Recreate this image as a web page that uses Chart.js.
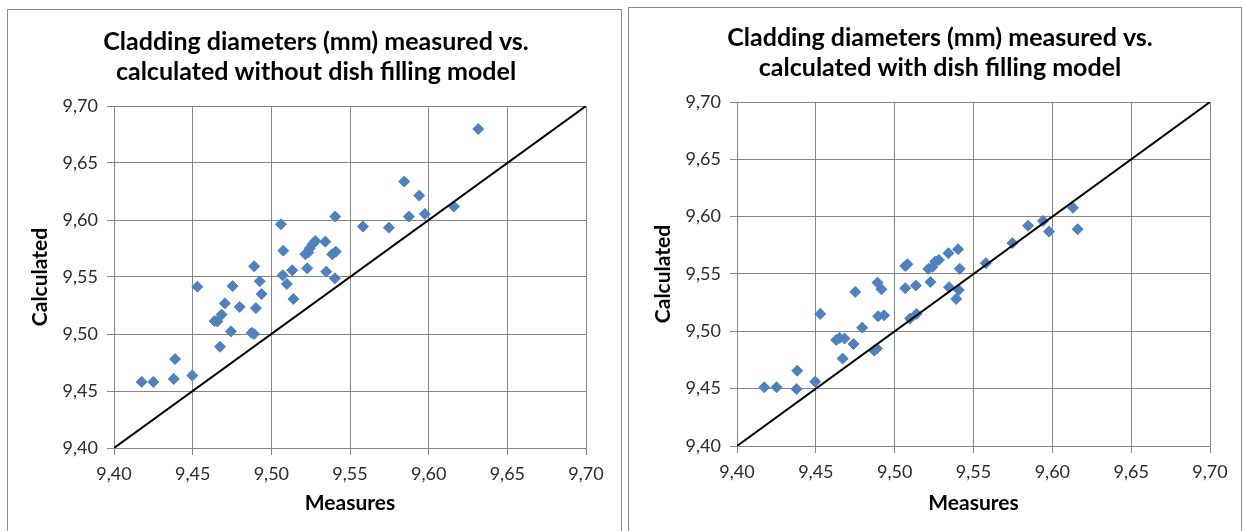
<!DOCTYPE html>
<html>
<head>
<meta charset="utf-8">
<script src="https://cdn.jsdelivr.net/npm/chart.js@4.4.1/dist/chart.umd.min.js"></script>
<style>
  html, body { margin: 0; padding: 0; background: #fff; overflow: hidden; }
  body { width: 1243px; height: 531px; position: relative; }
  .frame { position: absolute; border: 1px solid #8c8c8c; box-sizing: border-box; }
  canvas { position: absolute; }
</style>
</head>
<body>
<div class="frame" style="left:7px; top:9px; width:615px; height:540px;"></div>
<div class="frame" style="left:628px; top:7px; width:614px; height:540px;"></div>
<canvas id="c1" width="592" height="520" style="left:20px; top:10px;"></canvas>
<canvas id="c2" width="592" height="522" style="left:644px; top:8px;"></canvas>
<script>
// ---- data ----
const tickValues = [9.40, 9.45, 9.50, 9.55, 9.60, 9.65, 9.70];

const measuresWithout = [9.4176, 9.4250, 9.4380, 9.4388, 9.4498, 9.4530, 9.4674, 9.4640, 9.4657, 9.4684,
  9.4705, 9.4743, 9.4754, 9.4799, 9.4875, 9.4890, 9.4891, 9.4902, 9.4926, 9.4938,
  9.5061, 9.5072, 9.5076, 9.5099, 9.5133, 9.5140, 9.5228, 9.5216, 9.5235, 9.5245,
  9.5262, 9.5279, 9.5343, 9.5349, 9.5387, 9.5410, 9.5406, 9.5404, 9.5582, 9.5747,
  9.5874, 9.5976, 9.5940, 9.5845, 9.6160, 9.6315];
const calcWithout = [9.458, 9.458, 9.4606, 9.478, 9.4636, 9.5415, 9.4888, 9.5113, 9.511, 9.517,
  9.5269, 9.5023, 9.542, 9.5237, 9.501, 9.500, 9.5594, 9.5227, 9.5462, 9.535,
  9.5963, 9.5515, 9.5731, 9.5439, 9.5559, 9.5307, 9.5576, 9.570, 9.5714, 9.5752,
  9.5787, 9.5816, 9.581, 9.5547, 9.570, 9.5722, 9.603, 9.5489, 9.5942, 9.5933,
  9.603, 9.6053, 9.6214, 9.6337, 9.6118, 9.6798];

const measuresWith = [9.4173, 9.4251, 9.4378, 9.4382, 9.4496, 9.4528, 9.4670, 9.4629, 9.4650, 9.4682,
  9.4739, 9.4750, 9.4794, 9.4870, 9.4887, 9.4891, 9.4895, 9.4916, 9.4933, 9.5067,
  9.5081, 9.5067, 9.5134, 9.5098, 9.5138, 9.5227, 9.5214, 9.5239, 9.5257, 9.5280,
  9.5341, 9.5402, 9.5413, 9.5345, 9.5407, 9.5390, 9.5578, 9.5747, 9.5846, 9.5941,
  9.5979, 9.6161, 9.6131];
const calcWith = [9.4512, 9.4512, 9.4497, 9.4657, 9.4561, 9.5152, 9.4762, 9.4925, 9.4942, 9.4937,
  9.489, 9.5344, 9.5032, 9.4832, 9.485, 9.5425, 9.5132, 9.5367, 9.514, 9.557,
  9.5585, 9.5376, 9.5399, 9.5111, 9.5152, 9.5431, 9.5545, 9.5562, 9.5608, 9.5623,
  9.5681, 9.5716, 9.5545, 9.5385, 9.5361, 9.5283, 9.5594, 9.5769, 9.592, 9.5963,
  9.587, 9.5891, 9.6077];

const identityX = [9.40, 9.70];
const identityY = [9.40, 9.70];

const titleWithout = ['Cladding diameters (mm) measured vs.', 'calculated without dish filling model'];
const titleWith = ['Cladding diameters (mm) measured vs.', 'calculated with dish filling model'];
const xTitle = 'Measures';
const yTitle = 'Calculated';

// ---- chart building ----
const FONT = 'Lato, Carlito, Calibri, "Open Sans", sans-serif';
const GRID = '#868686';
const fmt = v => Number(v).toFixed(2).replace('.', ',');
const setTicks = s => { s.ticks = tickValues.map(v => ({ value: v })); };

function makeChart(id, xs, ys, titleLines, opt) {
  const pts = xs.map((x, i) => ({ x: x, y: ys[i] }));
  const line = identityX.map((x, i) => ({ x: x, y: identityY[i] }));
  return new Chart(document.getElementById(id), {
    type: 'scatter',
    data: {
      datasets: [
        { data: pts, pointStyle: 'rectRot', pointRadius: 5.5, pointHoverRadius: 5.5,
          backgroundColor: '#4F81BD', borderColor: '#4F81BD', borderWidth: 1, order: 1 },
        { data: line, showLine: true, pointRadius: 0, borderColor: '#000', borderWidth: 2,
          fill: false, order: 0 }
      ]
    },
    options: {
      responsive: false, animation: false, devicePixelRatio: 1,
      layout: { padding: 0 },
      plugins: {
        legend: { display: false },
        tooltip: { enabled: false },
        title: {
          display: true, text: titleLines, color: '#000',
          font: { family: FONT, size: 25, weight: 'bold', lineHeight: '30px' },
          padding: { top: opt.titleTop, bottom: opt.titleBottom }
        }
      },
      scales: {
        x: {
          type: 'linear', position: 'bottom', min: 9.40, max: 9.70,
          afterBuildTicks: setTicks,
          afterFit: s => { s.height = opt.xHeight; },
          grid: { color: GRID, lineWidth: 1, tickLength: 7, drawTicks: true },
          border: { color: GRID, width: 1 },
          ticks: { callback: fmt, color: '#2b2b2b', padding: 8, maxRotation: 0,
                   font: { family: FONT, size: 18 } },
          title: { display: true, text: xTitle, color: '#000',
                   font: { family: FONT, size: 21, weight: 'bold' },
                   padding: { top: 0, bottom: 14 } }
        },
        y: {
          type: 'linear', position: 'left', min: 9.40, max: 9.70,
          afterBuildTicks: setTicks,
          afterFit: s => { s.width = opt.yWidth; },
          grid: { color: GRID, lineWidth: 1, tickLength: 7, drawTicks: true },
          border: { color: GRID, width: 1 },
          ticks: { callback: fmt, color: '#2b2b2b', padding: 9,
                   font: { family: FONT, size: 18 } },
          title: { display: true, text: yTitle, color: '#000',
                   font: { family: FONT, size: 21, weight: 'bold' },
                   padding: { top: opt.yTitlePad, bottom: 0 } }
        },
        spacer: {
          type: 'linear', position: 'right', display: true,
          grid: { display: false, drawTicks: false }, border: { display: false },
          ticks: { display: false },
          afterFit: s => { s.width = 26; }
        }
      }
    }
  });
}

function build() {
  makeChart('c1', measuresWithout, calcWithout, titleWithout,
    { titleTop: 17, titleBottom: 19, xHeight: 82, yWidth: 94, yTitlePad: 8 });
  makeChart('c2', measuresWith, calcWith, titleWith,
    { titleTop: 15, titleBottom: 19, xHeight: 84, yWidth: 93, yTitlePad: 7 });
}

if (document.fonts && document.fonts.load) {
  Promise.all([
    document.fonts.load('bold 25px Lato'),
    document.fonts.load('18px Lato')
  ]).then(build, build);
} else {
  build();
}
</script>
</body>
</html>
